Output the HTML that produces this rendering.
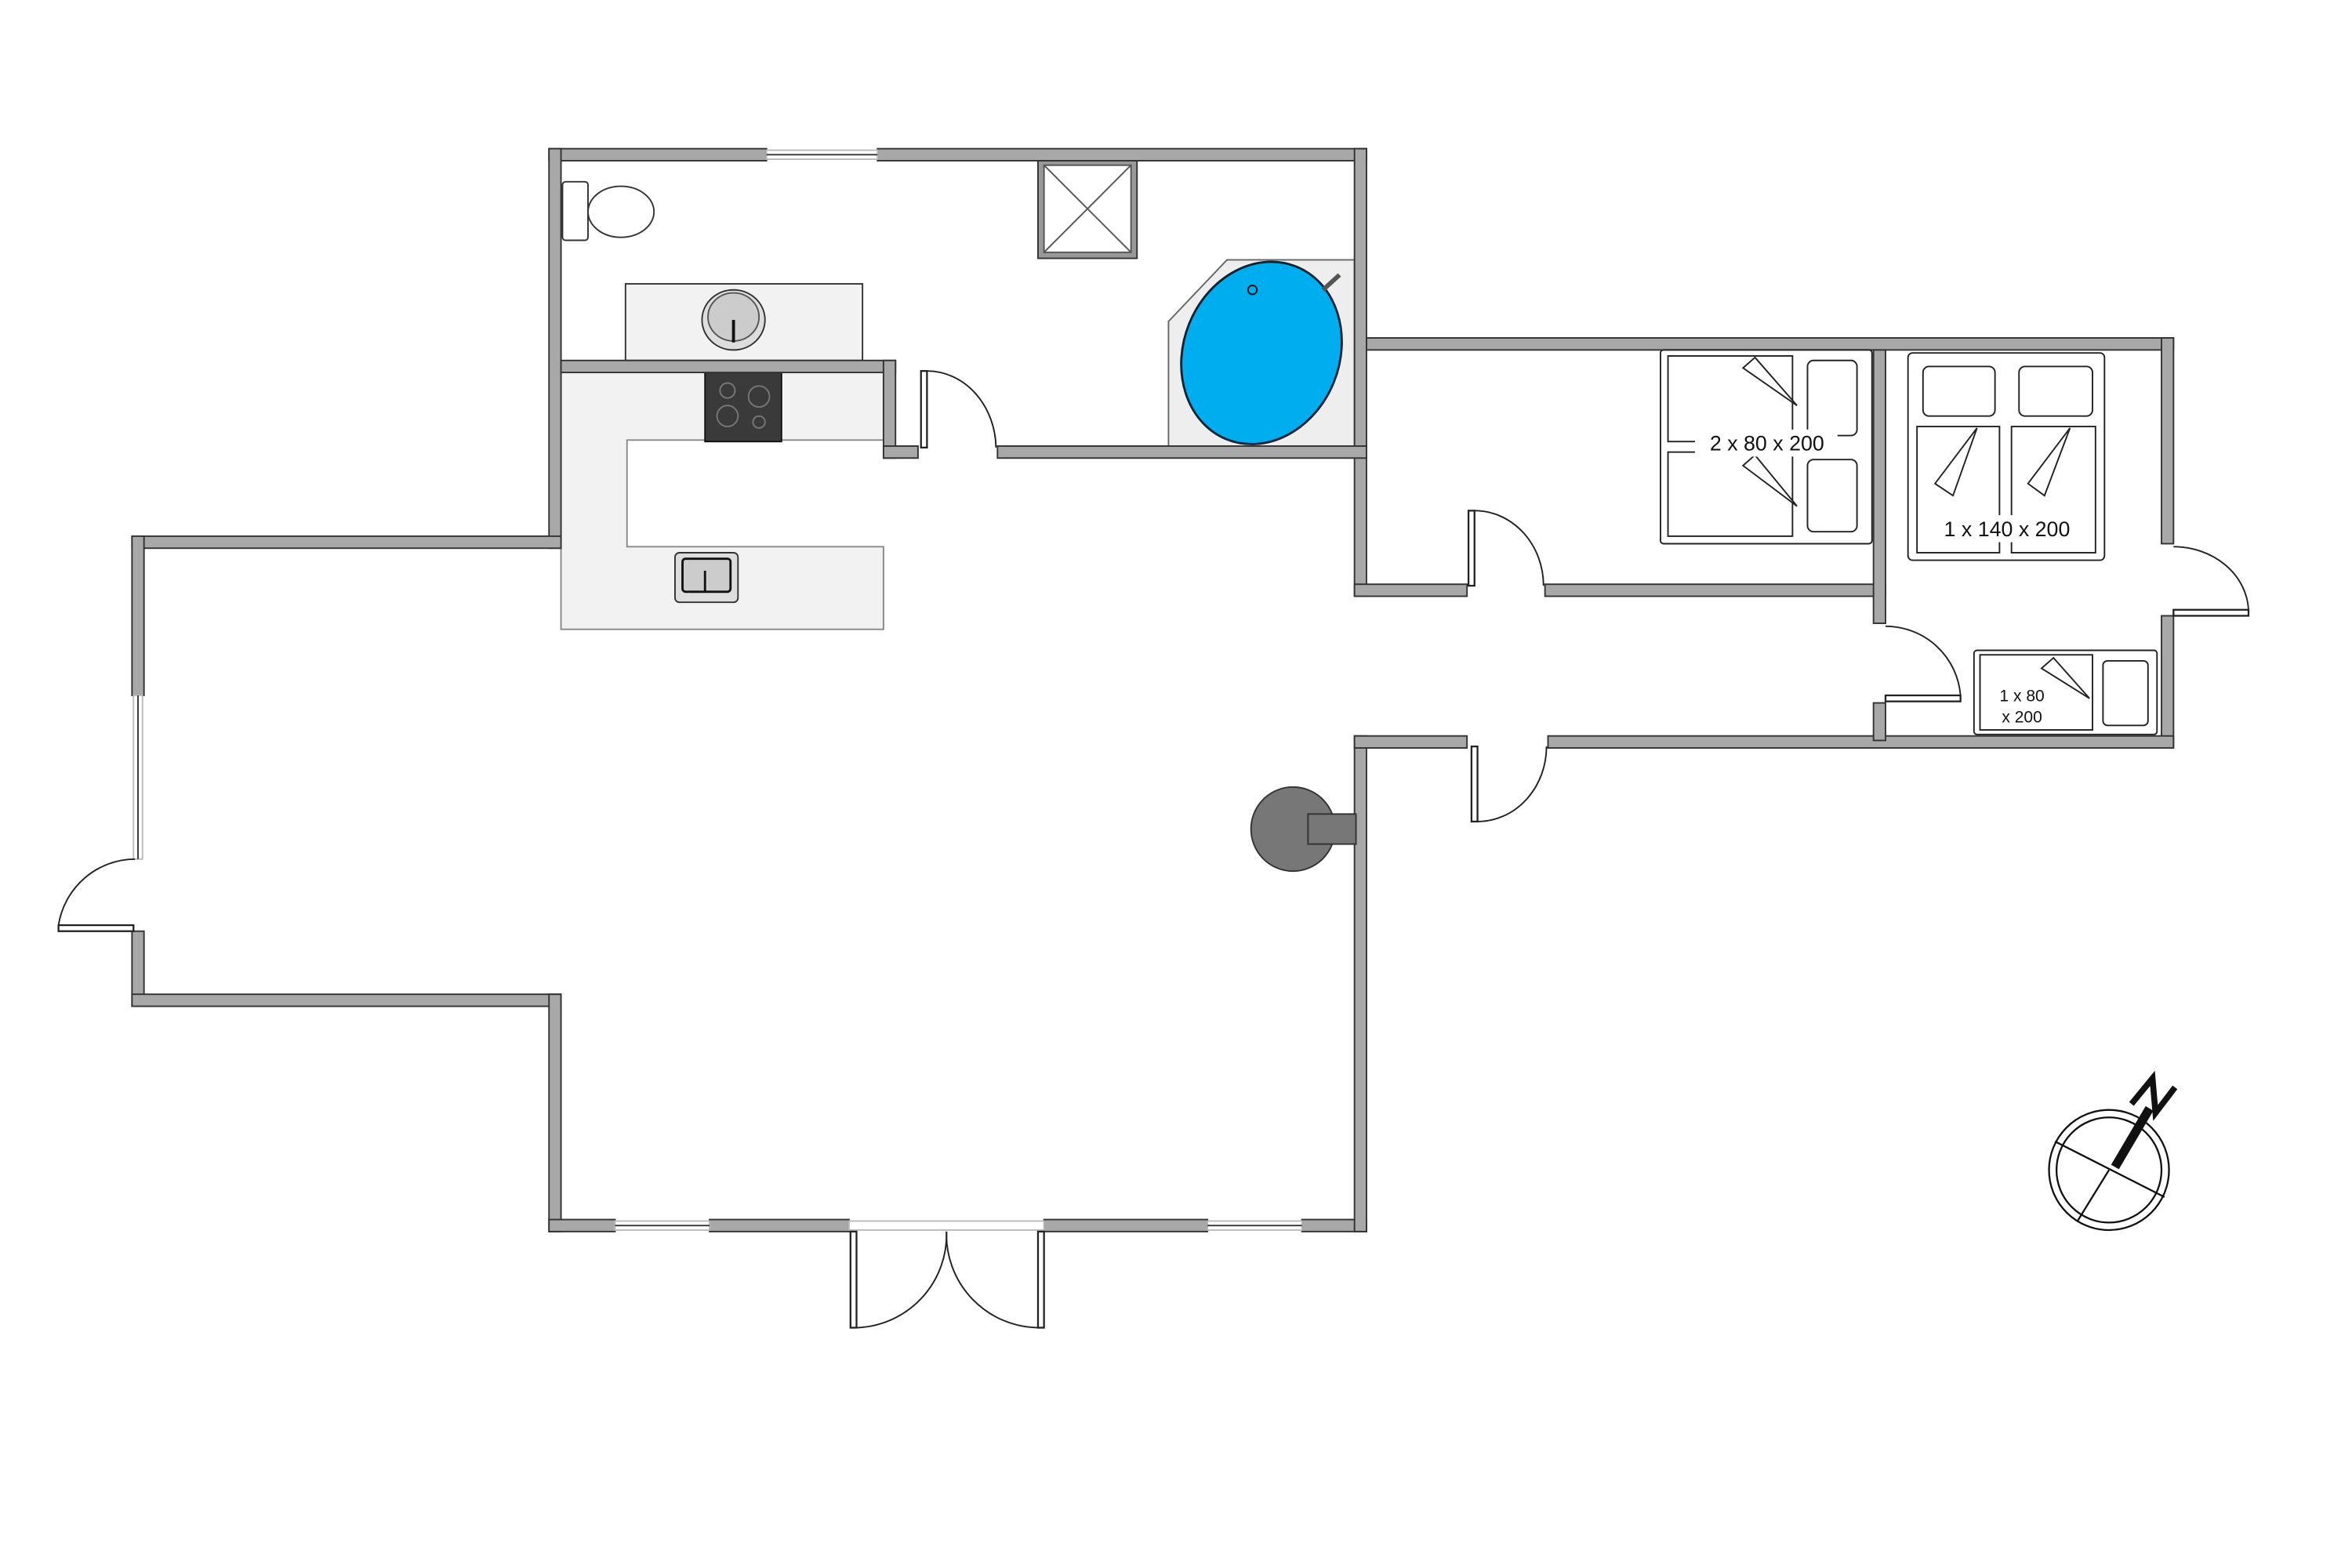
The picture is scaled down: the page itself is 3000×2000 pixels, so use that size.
<!DOCTYPE html>
<html><head><meta charset="utf-8"><style>
html,body{margin:0;padding:0;background:#fff;}
svg{display:block;}
.w{fill:#a8a8a8;stroke:#333;stroke-width:1;}
.d{fill:none;stroke:#222;stroke-width:1;}
.l{fill:#fff;stroke:#222;stroke-width:1.2;}
.t{font-family:"Liberation Sans",sans-serif;fill:#111;}
</style></head><body>
<svg width="3000" height="2000" viewBox="0 0 1568 1044" preserveAspectRatio="none" xmlns="http://www.w3.org/2000/svg">
<rect width="1568" height="1044" fill="#fff"/>
<path d="M374,248 H589 V293 H418 V364 H589 V419 H374 Z" fill="#f2f2f2" stroke="#888" stroke-width="1"/>
<rect x="470" y="248" width="51" height="46" fill="#3a3a3a" stroke="#111"/>
<circle cx="485" cy="260" r="5" fill="none" stroke="#777"/>
<circle cx="506" cy="264" r="7" fill="none" stroke="#777"/>
<circle cx="485" cy="277" r="7" fill="none" stroke="#777"/>
<circle cx="506" cy="281" r="4" fill="none" stroke="#777"/>
<rect x="450" y="368" width="42" height="33" rx="3" fill="#ddd" stroke="#333"/>
<rect x="455" y="372" width="32" height="22" rx="2" fill="#ccc" stroke="#111" stroke-width="1.5"/>
<line x1="470" y1="380" x2="470" y2="394" stroke="#111" stroke-width="1.5"/>
<rect x="417" y="189" width="158" height="51" fill="#f2f2f2" stroke="#333"/>
<ellipse cx="489" cy="213" rx="21" ry="20" fill="#ddd" stroke="#333"/>
<ellipse cx="489" cy="211" rx="17" ry="16" fill="#ccc" stroke="#555"/>
<line x1="489" y1="213" x2="489" y2="228" stroke="#111" stroke-width="2"/>
<rect x="375" y="121" width="17" height="39" rx="2" fill="#fff" stroke="#333"/>
<ellipse cx="414" cy="141" rx="22" ry="17" fill="#fff" stroke="#333"/>
<rect x="692" y="107" width="66" height="65" fill="#999" stroke="#333"/>
<rect x="696" y="110" width="58" height="58" fill="#fff" stroke="#555"/>
<line x1="696" y1="110" x2="754" y2="168" stroke="#555"/><line x1="754" y1="110" x2="696" y2="168" stroke="#555"/>
<path d="M818,173 H903 V297 H779 V214 Z" fill="#eee" stroke="#666"/>
<ellipse cx="841" cy="235" rx="52" ry="62" transform="rotate(22 841 235)" fill="#00adef" stroke="#123" stroke-width="1.5"/>
<circle cx="835" cy="193" r="3" fill="none" stroke="#111"/>
<line x1="882" y1="193" x2="893" y2="183" stroke="#555" stroke-width="3"/>
<g class="w">
<rect x="366" y="99" width="145" height="8"/><rect x="585" y="99" width="326" height="8"/>
<rect x="366" y="99" width="8" height="266"/>
<rect x="903" y="99" width="8" height="298"/>
<rect x="88" y="357" width="286" height="8"/>
<rect x="88" y="357" width="8" height="106"/><rect x="88" y="620" width="8" height="50"/>
<rect x="88" y="662" width="286" height="8"/>
<rect x="366" y="662" width="8" height="158"/>
<rect x="366" y="812" width="44" height="8"/><rect x="473" y="812" width="93" height="8"/><rect x="696" y="812" width="109" height="8"/><rect x="868" y="812" width="43" height="8"/>
<rect x="903" y="490" width="8" height="330"/>
<rect x="374" y="240" width="223" height="8"/><rect x="589" y="240" width="8" height="65"/>
<rect x="589" y="297" width="23" height="8"/><rect x="665" y="297" width="246" height="8"/>
<rect x="911" y="225" width="538" height="8"/>
<rect x="1441" y="225" width="8" height="137"/><rect x="1441" y="410" width="8" height="87"/>
<rect x="903" y="490" width="75" height="8"/><rect x="1032" y="490" width="417" height="8"/>
<rect x="903" y="389" width="75" height="8"/><rect x="1030" y="389" width="227" height="8"/>
<rect x="1249" y="233" width="8" height="182"/><rect x="1249" y="468" width="8" height="25"/>
</g>
<g stroke="#333" stroke-width="1" fill="#fff">
<rect x="511" y="100" width="74" height="6" stroke="#bbb"/><line x1="511" y1="103" x2="585" y2="103"/>
<rect x="89" y="463" width="6" height="109" stroke="#bbb"/><line x1="92" y1="463" x2="92" y2="572"/>
<rect x="410" y="813" width="63" height="6" stroke="#bbb"/><line x1="410" y1="816" x2="473" y2="816"/>
<rect x="805" y="813" width="63" height="6" stroke="#bbb"/><line x1="805" y1="816" x2="868" y2="816"/>
<rect x="566" y="813" width="130" height="6" stroke="#bbb"/>
</g>
<rect x="39" y="616" width="50" height="4" class="l"/><path d="M39,616 A52,52 0 0 1 90,572" class="d"/>
<rect x="567" y="820" width="4" height="64" class="l"/><path d="M571,884 A62,62 0 0 0 631,820" class="d"/>
<rect x="692" y="820" width="4" height="64" class="l"/><path d="M692,884 A62,62 0 0 1 631,820" class="d"/>
<rect x="614" y="247" width="4" height="51" class="l"/><path d="M618,247 A46,52 0 0 1 664,298" class="d"/>
<rect x="979" y="340" width="4" height="50" class="l"/><path d="M983,340 A46,50 0 0 1 1029,390" class="d"/>
<rect x="981" y="497" width="4" height="50" class="l"/><path d="M985,547 A46,50 0 0 0 1031,497" class="d"/>
<rect x="1257" y="463" width="50" height="4" class="l"/><path d="M1257,417 A50,50 0 0 1 1307,463" class="d"/>
<rect x="1449" y="406" width="50" height="4" class="l"/><path d="M1449,364 A50,44 0 0 1 1499,406" class="d"/>
<circle cx="862" cy="552" r="28" fill="#777" stroke="#333"/>
<rect x="872" y="542" width="32" height="20" fill="#777" stroke="#333"/>
<g fill="#fff" stroke="#222" stroke-width="1">
<rect x="1107" y="233" width="141" height="129" rx="2"/>
<rect x="1112" y="237" width="83" height="57"/><rect x="1112" y="301" width="83" height="56"/>
<rect x="1205" y="240" width="33" height="50" rx="4"/><rect x="1205" y="306" width="33" height="48" rx="4"/>
<path d="M1170,238 L1198,270 L1162,245 Z"/><path d="M1170,303 L1198,337 L1162,310 Z"/>
<rect x="1272" y="235" width="131" height="138" rx="3"/>
<rect x="1282" y="244" width="48" height="33" rx="4"/><rect x="1346" y="244" width="49" height="33" rx="4"/>
<rect x="1278" y="284" width="55" height="84"/><rect x="1341" y="284" width="56" height="84"/>
<path d="M1318,285 L1290,322 L1302,330 Z"/><path d="M1380,285 L1352,322 L1363,330 Z"/>
<rect x="1316" y="433" width="122" height="56" rx="2"/>
<rect x="1320" y="436" width="75" height="50"/><rect x="1402" y="440" width="30" height="43" rx="3"/>
<path d="M1369,438 L1393,465 L1361,445 Z"/>
</g>
<rect x="1130" y="286" width="95" height="18" fill="#fff"/>
<text x="1178" y="300" class="t" font-size="14" text-anchor="middle">2 x 80 x 200</text>
<rect x="1290" y="343" width="95" height="18" fill="#fff"/>
<text x="1338" y="357" class="t" font-size="14" text-anchor="middle">1 x 140 x 200</text>
<text x="1348" y="467" class="t" font-size="11" text-anchor="middle">1 x 80</text>
<text x="1348" y="481" class="t" font-size="11" text-anchor="middle">x 200</text>
<g fill="none" stroke="#111" stroke-width="1.2">
<circle cx="1406" cy="779" r="40"/><circle cx="1406" cy="779" r="35"/>
<line x1="1370" y1="760" x2="1443" y2="797"/><line x1="1406" y1="779" x2="1385" y2="813"/>
<line x1="1410" y1="777" x2="1433" y2="738" stroke-width="6"/>
<path d="M1421,735 L1435,718 L1437,741 L1450,724" stroke-width="4"/>
</g>
</svg>
</body></html>
